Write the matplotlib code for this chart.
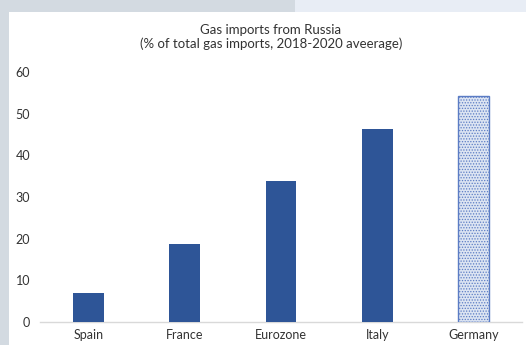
import matplotlib.pyplot as plt
from matplotlib.patches import Rectangle

# data
countries = ['Spain', 'France', 'Eurozone', 'Italy', 'Germany']
shares = [7.0, 18.7, 33.8, 46.3, 54.3]
y_ticks = [0, 10, 20, 30, 40, 50, 60]

plt.rcParams['font.family'] = ['Lato', 'DejaVu Sans']
plt.rcParams['hatch.linewidth'] = 0.6

W, H = 526, 345
fig = plt.figure(figsize=(W / 100, H / 100), dpi=100)
fig.patch.set_facecolor('white')

# page background behind the white card
fig.patches.append(Rectangle((0, 0), 295 / W, 1, transform=fig.transFigure,
                             facecolor='#d3dae1', edgecolor='none', zorder=-10))
fig.patches.append(Rectangle((295 / W, (H - 12) / H), 1, 12 / H, transform=fig.transFigure,
                             facecolor='#e8edf5', edgecolor='none', zorder=-10))
fig.patches.append(Rectangle((9 / W, 0), 1, (H - 12) / H, transform=fig.transFigure,
                             facecolor='white', edgecolor='none', zorder=-9))

ax = fig.add_axes([40 / W, 23 / H, 482 / W, 250 / H])
ax.set_facecolor('none')

x = list(range(len(countries)))
ax.bar(x[:-1], shares[:-1], width=0.32, color='#2e5597', zorder=3)
ax.bar(x[-1], shares[-1], width=0.32, facecolor='#dce4f2', edgecolor='#5b7cc4',
       hatch='......', linewidth=1.0, zorder=3)

ax.set_xlim(-0.5, 4.5)
ax.set_ylim(0, 60)
ax.set_yticks(y_ticks)
ax.set_xticks(x)
ax.set_xticklabels(countries)

for s in ['top', 'right', 'left']:
    ax.spines[s].set_visible(False)
ax.spines['bottom'].set_color('#d9d9d9')
ax.spines['bottom'].set_linewidth(1.0)
ax.tick_params(axis='both', length=0, labelsize=9, colors='#333333')
ax.tick_params(axis='y', pad=7)
ax.tick_params(axis='x', pad=5)

fig.text(0.515, (H - 30) / H, 'Gas imports from Russia', ha='center', va='center',
         fontsize=9.5, color='#333333')
fig.text(0.515, (H - 44) / H, '(% of total gas imports, 2018-2020 aveerage)', ha='center',
         va='center', fontsize=9.5, color='#333333')

fig.savefig('out.png', dpi=100)
